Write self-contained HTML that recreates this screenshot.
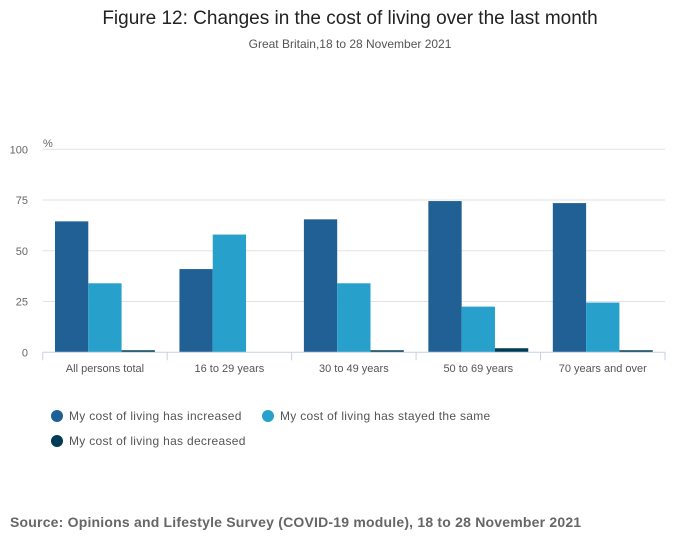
<!DOCTYPE html>
<html><head><meta charset="utf-8"><style>
body{margin:0;background:#fff;font-family:"Liberation Sans",sans-serif;}
svg{display:block}
</style></head><body>
<svg id="c" width="700" height="549">
<text x="350" y="24" text-anchor="middle" font-size="19" fill="#222">Figure 12: Changes in the cost of living over the last month</text>
<text x="350" y="48" text-anchor="middle" font-size="12" fill="#555">Great Britain,18 to 28 November 2021</text>
<text x="43" y="147" font-size="11" fill="#666">%</text>
<g id="grid"></g><g id="bars"></g><g id="xax"></g>
<g letter-spacing="0.3">
<circle cx="57" cy="416" r="6" fill="#206095"/>
<text x="69" y="420" font-size="12" fill="#555">My cost of living has increased</text>
<circle cx="268" cy="416" r="6" fill="#27a0cc"/>
<text x="280" y="420" font-size="12" fill="#555">My cost of living has stayed the same</text>
<circle cx="57" cy="441" r="6" fill="#003c57"/>
<text x="69" y="445" font-size="12" fill="#555">My cost of living has decreased</text>
</g>
<text x="10" y="527" font-size="14" font-weight="bold" fill="#666" letter-spacing="0.2">Source: Opinions and Lifestyle Survey (COVID-19 module), 18 to 28 November 2021</text>
</svg>
<script>
const categories=["All persons total","16 to 29 years","30 to 49 years","50 to 69 years","70 years and over"];
const increased=[64.5,41,65.5,74.5,73.5];
const same=[34,58,34,22.5,24.5];
const decreased=[1,0,1,2,1];
const yTicks=[0,25,50,75,100];
const NS="http://www.w3.org/2000/svg";
const x0=42.7,x1=665,y0=352.3,yTop=149.3;
const y=v=>y0-(v/100)*(y0-yTop);
const gw=(x1-x0)/categories.length;
function mk(t,a,p){const e=document.createElementNS(NS,t);for(const k in a)e.setAttribute(k,a[k]);p.appendChild(e);return e;}
const grid=document.getElementById('grid'),bars=document.getElementById('bars'),xax=document.getElementById('xax');
yTicks.forEach(t=>{
 if(t>0){const l=mk('line',{x1:x0,x2:x1,y1:y(t),y2:y(t),stroke:'#e2e2e2','stroke-width':1},grid);
 
 }
 const tx=mk('text',{x:28,y:y(t)+4,'text-anchor':'end','font-size':11,fill:'#666'},grid);tx.textContent=t;
 
 
});
const series=[[increased,'#206095','increased'],[same,'#27a0cc','same'],[decreased,'#003c57','decreased']];
const bw=33.3,pad=(gw-3*bw)/2;
categories.forEach((c,i)=>{
 series.forEach(([arr,col,nm],j)=>{
  const v=arr[i];const r=mk('rect',{x:x0+i*gw+pad+j*bw,y:y(v),width:bw,height:y0-y(v),fill:col},bars);
  
  
 });
 const t=mk('text',{x:x0+(i+0.5)*gw,y:372,'text-anchor':'middle','font-size':11,fill:'#555'},xax);t.textContent=c;
 
 
});
const ax=mk('line',{x1:x0,x2:x1,y1:y0,y2:y0,stroke:'#c5d0e6','stroke-width':1},xax);


for(let i=0;i<=categories.length;i++){const tk=mk('line',{x1:x0+i*gw,x2:x0+i*gw,y1:y0,y2:y0+8,stroke:'#c5d0e6'},xax);
 
 }
</script>
</body></html>
